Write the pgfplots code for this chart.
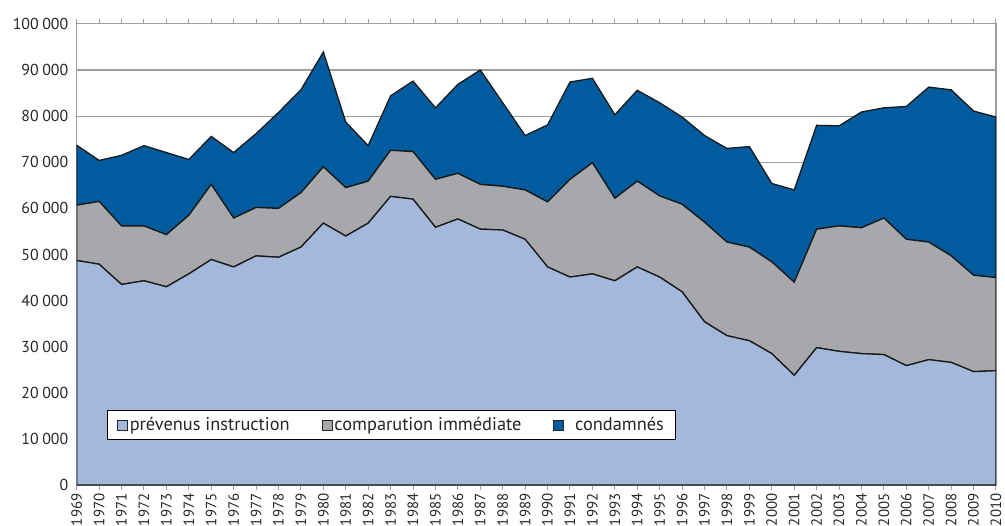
\documentclass[border=0pt]{standalone}
\usepackage{pgfplots}
\pgfplotsset{compat=1.18}
\usepackage{fontspec}
\setmainfont{PT Sans}
\usetikzlibrary{calc}
\definecolor{prevcol}{HTML}{A3B8DA}
\definecolor{compcol}{HTML}{A7A8AB}
\definecolor{condcol}{HTML}{005C9E}
\definecolor{framecol}{HTML}{9D9EA2}

% prévenus instruction, comparution immédiate, condamnés
\pgfplotstableread{
year prev comp cond
1969 48700 12000 13000
1970 47900 13600 8900
1971 43500 12700 15300
1972 44300 11900 17400
1973 43000 11300 17800
1974 45800 12700 12100
1975 48900 16300 10400
1976 47300 10600 14200
1977 49700 10500 16000
1978 49400 10600 20800
1979 51600 11800 22300
1980 56800 12200 24900
1981 54000 10500 14200
1982 56800 9100 7700
1983 62600 10000 11800
1984 62000 10300 15300
1985 55900 10400 15500
1986 57700 9900 19300
1987 55500 9700 24800
1988 55300 9500 18100
1989 53300 10700 11800
1990 47300 14100 16700
1991 45100 21200 21100
1992 45800 24100 18300
1993 44300 17900 18100
1994 47300 18600 19700
1995 45100 17600 20200
1996 41900 19000 18900
1997 35400 21600 18800
1998 32400 20300 20300
1999 31300 20300 21800
2000 28500 19900 17000
2001 23800 20200 20000
2002 29800 25700 22500
2003 29000 27200 21700
2004 28500 27300 25100
2005 28300 29600 23900
2006 25900 27400 28800
2007 27200 25500 33600
2008 26600 23100 36000
2009 24600 20900 35600
2010 24800 20200 34800
}\data

\begin{document}
\begin{tikzpicture}
\begin{axis}[
  name=ax,
  scale only axis, width=923bp, height=463bp,
  xmin=1969, xmax=2010, ymin=0, ymax=100000,
  xtick={1969,...,2010},
  ytick={0,10000,...,100000},
  scaled y ticks=false,
  axis line style={draw=framecol, line width=1.2bp},
  ymajorgrids,
  grid style={draw=framecol, line width=1.2bp},
  ytick style={draw=none},
  xtick style={draw=framecol, line width=1bp},
  major tick length=5bp,
  tick align=outside,
  /pgf/number format/assume math mode=true,
  y tick label style={font=\fontsize{16}{19}\selectfont, text=black!85,
    /pgf/number format/.cd, fixed, precision=0, 1000 sep={\hspace{0.22em}}},
  x tick label style={font=\fontsize{15}{18}\selectfont, text=black!85,
    rotate=90, anchor=east,
    /pgf/number format/.cd, fixed, precision=0, 1000 sep={}},
  stack plots=y,
  legend columns=-1,
  legend style={at={(0.0325,0.162)}, anchor=north west,
    draw=black, line width=0.8bp, inner xsep=10bp, inner ysep=5bp,
    font=\fontsize{18.5}{21}\selectfont, text=black!85,
    /tikz/every even column/.append style={column sep=30bp},
    /tikz/every odd column/.append style={column sep=0pt}},
  legend image code/.code={\draw[#1, draw=black!85, line width=0.9bp] (0bp,-5bp) rectangle (10bp,5bp);},
]
\addplot[fill=prevcol, draw=black!90, line width=1.3bp] table[x=year, y=prev] {\data} \closedcycle;
\addlegendentry{prévenus instruction}
\addplot[fill=compcol, draw=black!90, line width=1.3bp] table[x=year, y=comp] {\data} \closedcycle;
\addlegendentry{comparution immédiate}
\addplot[fill=condcol, draw=black!90, line width=1.3bp] table[x=year, y=cond] {\data} \closedcycle;
\addlegendentry{\hspace{9bp}condamnés}
\draw[framecol, line width=2.5bp] (rel axis cs:0,0) -- (rel axis cs:1,0);
\end{axis}
\pgfresetboundingbox
\path[use as bounding box] ($(ax.south west)+(-77bp,-41bp)$) rectangle ($(ax.north east)+(9bp,24bp)$);
\end{tikzpicture}
\end{document}
